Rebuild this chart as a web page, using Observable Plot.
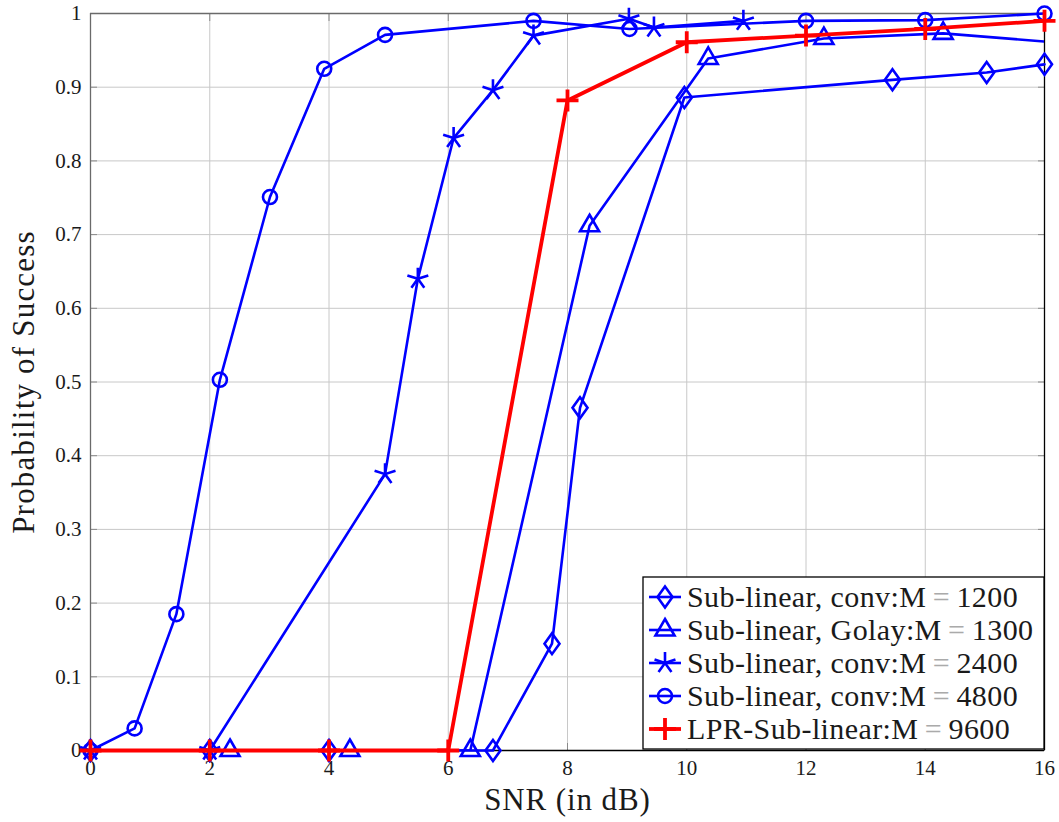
<!DOCTYPE html>
<html>
<head>
<meta charset="utf-8">
<script src="https://cdn.jsdelivr.net/npm/d3@7"></script>
<script src="https://cdn.jsdelivr.net/npm/@observablehq/plot@0.6"></script>
<style>
  html, body { margin: 0; padding: 0; background: #fff; }
</style>
</head>
<body>
<div id="chart"></div>
<script>
// ---- data ----
const snrM1200 = [0, 2, 4, 6.75, 7.74, 8.21, 9.96, 13.45, 15.03, 16];
const psM1200  = [0, 0, 0, 0, 0.145, 0.465, 0.886, 0.910, 0.920, 0.931];

const snrM1300 = [2.34, 4.35, 6.37, 8.37, 10.36, 12.3, 14.3, 16.3];
const psM1300  = [0, 0, 0, 0.712, 0.939, 0.966, 0.973, 0.960];

const snrM2400 = [0, 2, 4.94, 5.49, 6.09, 6.75, 7.43, 9.03, 9.45, 10.95];
const psM2400  = [0, 0, 0.375, 0.640, 0.831, 0.896, 0.970, 0.993, 0.981, 0.990];

const snrM4800 = [0, 0.74, 1.44, 2.17, 3.01, 3.92, 4.94, 7.43, 9.04, 12, 14, 16];
const psM4800  = [0, 0.030, 0.185, 0.503, 0.751, 0.925, 0.971, 0.990, 0.979, 0.990, 0.991, 1.0];

const snrLPR = [0, 2, 4, 6, 8, 10, 12, 14, 16];
const psLPR  = [0, 0, 0, 0, 0.882, 0.961, 0.970, 0.979, 0.990];

const xTicks = [0, 2, 4, 6, 8, 10, 12, 14, 16];
const yTicks = [0, 0.1, 0.2, 0.3, 0.4, 0.5, 0.6, 0.7, 0.8, 0.9, 1];
const yTickLabels = ["0", "0.1", "0.2", "0.3", "0.4", "0.5", "0.6", "0.7", "0.8", "0.9", "1"];

const xTitle = "SNR (in dB)";
const yTitle = "Probability of Success";

const legendPrefix = ["Sub-linear, conv:M", "Sub-linear, Golay:M", "Sub-linear, conv:M", "Sub-linear, conv:M", "LPR-Sub-linear:M"];
const legendValue  = ["1200", "1300", "2400", "4800", "9600"];

// ---- marker shapes (pgfplots-like) ----
const symDiamond = { draw(c) { c.moveTo(0, -10.5); c.lineTo(7.5, 0); c.lineTo(0, 10.5); c.lineTo(-7.5, 0); c.closePath(); } };
const symTriangle = { draw(c) { const R = 11; c.moveTo(0, -R); c.lineTo(0.866 * R, 0.5 * R); c.lineTo(-0.866 * R, 0.5 * R); c.closePath(); } };
const symStar = { draw(c) { const L = 11; for (let k = 0; k < 5; k++) { const a = (-90 + 72 * k) * Math.PI / 180; c.moveTo(0, 0); c.lineTo(L * Math.cos(a), L * Math.sin(a)); } } };
const symCircle = { draw(c) { const r = 7; c.moveTo(r, 0); c.arc(0, 0, r, 0, 2 * Math.PI); c.closePath(); } };
const symPlus = { draw(c) { const L = 11; c.moveTo(-L, 0); c.lineTo(L, 0); c.moveTo(0, -L); c.lineTo(0, L); } };

const toRows = (xs, ys) => xs.map((x, i) => ({x, y: ys[i]}));

const series = [
  {rows: toRows(snrM1200, psM1200), sym: symDiamond, color: "#0000ff", lw: 2.6, clip: false},
  {rows: toRows(snrM1300, psM1300), sym: symTriangle, color: "#0000ff", lw: 2.6, clip: true},
  {rows: toRows(snrM2400, psM2400), sym: symStar, color: "#0000ff", lw: 2.6, clip: false},
  {rows: toRows(snrM4800, psM4800), sym: symCircle, color: "#0000ff", lw: 2.6, clip: false},
  {rows: toRows(snrLPR, psLPR), sym: symPlus, color: "#ff0000", lw: 3.8, clip: false}
];

const seriesMarks = series.flatMap(s => [
  Plot.line(s.rows, {x: "x", y: "y", stroke: s.color, strokeWidth: s.lw, strokeLinejoin: "round", clip: s.clip}),
  Plot.dot(s.rows, {x: "x", y: "y", filter: d => d.x <= 16, symbol: s.sym, r: 8, stroke: s.color, fill: "none", strokeWidth: s.lw})
]);

const tickColor = "#8a8a8a";
const plot = Plot.plot({
  width: 1059,
  height: 822,
  marginLeft: 90,
  marginRight: 15,
  marginTop: 13,
  marginBottom: 72,
  style: {fontFamily: "'Liberation Serif', serif", background: "#fff", color: "#1a1a1a", overflow: "visible"},
  x: {domain: [0, 16]},
  y: {domain: [0, 1]},
  marks: [
    Plot.gridX(xTicks, {stroke: "#c8c8c8", strokeOpacity: 1, strokeWidth: 1}),
    Plot.gridY(yTicks, {stroke: "#c8c8c8", strokeOpacity: 1, strokeWidth: 1}),
    Plot.axisX(xTicks, {anchor: "bottom", tickSize: -7, stroke: tickColor, fill: "none", label: null, tickFormat: () => ""}),
    Plot.axisX(xTicks, {anchor: "top", tickSize: -7, stroke: tickColor, fill: "none", label: null, tickFormat: () => ""}),
    Plot.axisY(yTicks, {anchor: "left", tickSize: -7, stroke: tickColor, fill: "none", label: null, tickFormat: () => ""}),
    Plot.axisY(yTicks, {anchor: "right", tickSize: -7, stroke: tickColor, fill: "none", label: null, tickFormat: () => ""}),
    Plot.axisX(xTicks, {anchor: "bottom", tickSize: 0, tickPadding: 10, fontSize: 21, label: null, tickFormat: d => String(d)}),
    Plot.axisY(yTicks, {anchor: "left", tickSize: 0, tickPadding: 9, fontSize: 21, label: null, tickFormat: (d, i) => yTickLabels[i]}),
    Plot.ruleX([0], {stroke: "#6a6a6a", strokeWidth: 1.3}),
    Plot.ruleY([1], {stroke: "#6a6a6a", strokeWidth: 1.3}),
    Plot.ruleX([16], {stroke: "#000", strokeWidth: 1.3}),
    Plot.ruleY([0], {stroke: "#000", strokeWidth: 1.3}),
    ...seriesMarks,
    Plot.text([xTitle], {frameAnchor: "bottom", textAnchor: "middle", lineAnchor: "middle", dy: 50, fontSize: 31, fill: "#1a1a1a"}),
    Plot.text([yTitle], {frameAnchor: "left", textAnchor: "middle", lineAnchor: "middle", rotate: -90, dx: -66, fontSize: 31, fill: "#1a1a1a"})
  ]
});

// slight letter spacing on the axis titles to mimic the wider TeX font
d3.select(plot).selectAll("text").filter(function () {
  const s = this.textContent; return s === xTitle || s === yTitle;
}).attr("letter-spacing", function () { return this.textContent === yTitle ? 1.2 : 0.9; });

document.getElementById("chart").appendChild(plot);

// ---- legend (inside the plot area, lower right) ----
const svg = d3.select(plot);
const x = plot.scale("x"), y = plot.scale("y");
const boxRight = x.apply(16), boxBottom = y.apply(0) - 1;
const boxW = 401, boxH = 172;
const lg = svg.append("g").attr("transform", `translate(${boxRight - boxW},${boxBottom - boxH})`);
lg.append("rect").attr("width", boxW).attr("height", boxH).attr("fill", "#fff").attr("stroke", "#000").attr("stroke-width", 1.3);
series.forEach((s, i) => {
  const cy = 20 + i * 33;
  const row = lg.append("g").attr("transform", `translate(0,${cy})`);
  row.append("line").attr("x1", 6).attr("x2", 38).attr("y1", 0).attr("y2", 0)
    .attr("stroke", s.color).attr("stroke-width", s.lw);
  row.append("path").attr("transform", "translate(22,0)")
    .attr("d", d3.symbol().type(s.sym)())
    .attr("fill", "none").attr("stroke", s.color).attr("stroke-width", s.lw);
  const t = row.append("text").attr("x", 44).attr("dy", "0.34em")
    .attr("text-anchor", "start")
    .attr("font-size", 30).attr("letter-spacing", 0.4).attr("fill", "#1a1a1a")
    .attr("font-family", "'Liberation Serif', serif");
  t.append("tspan").text(legendPrefix[i]);
  t.append("tspan").attr("fill", "#aaaaaa").text("\u2009=\u2009");
  t.append("tspan").text(legendValue[i]);
});
</script>
</body>
</html>
